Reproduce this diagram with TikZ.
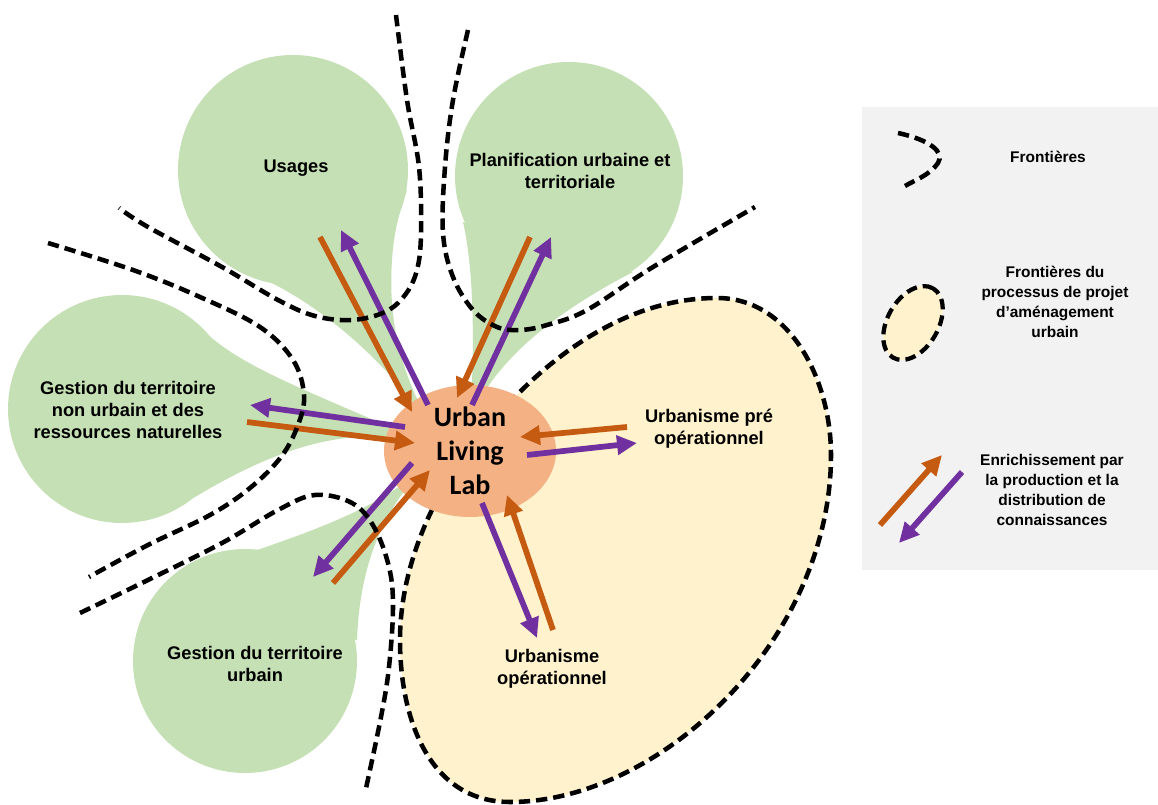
\documentclass[tikz,border=0pt]{standalone}
\usepackage{fontspec}
\setmainfont{Liberation Sans}
\newfontfamily\ullfont{Carlito}
\usetikzlibrary{arrows.meta,shapes.geometric}
\definecolor{leaf}{HTML}{C5E0B4}
\definecolor{cream}{HTML}{FFF2CC}
\definecolor{salmon}{HTML}{F4B183}
\definecolor{rust}{HTML}{C55A11}
\definecolor{myviolet}{HTML}{7030A0}
\definecolor{panel}{HTML}{F2F2F2}
\begin{document}
\begin{tikzpicture}[x=0.75pt,y=-0.75pt,
  leafshape/.style={fill=leaf},
  bound/.style={draw=black,line width=3.4pt,dash pattern=on 8.5pt off 4.5pt},
  orarrow/.style={draw=rust,line width=4.3pt,-{Triangle[length=15pt,width=14pt]}},
  viarrow/.style={draw=myviolet,line width=4.3pt,-{Triangle[length=15pt,width=14pt]}},
  lbl/.style={font=\bfseries\fontsize{13.7}{16.5}\selectfont,align=center,inner sep=0pt},
  leg/.style={font=\bfseries\fontsize{11.6}{15}\selectfont,align=center,inner sep=0pt},
]
\useasboundingbox (0,0) rectangle (1158,805);
\fill[white] (0,0) rectangle (1158,805);

% legend panel
\fill[panel] (862,107) rectangle (1158,570);

% green teardrops
\fill[leafshape] (293,170) circle[radius=115];
\fill[leafshape] (259,277) .. controls (300,295) and (370,340) .. (430,425)
   .. controls (400,370) and (388,320) .. (392,260)
   .. controls (394,230) and (400,210) .. (407,190) -- cycle;
\fill[leafshape] (569,176) circle[radius=114];
\fill[leafshape] (463,222) .. controls (472,260) and (476,330) .. (470,420)
   .. controls (490,370) and (540,320) .. (633,272) -- cycle;
\fill[leafshape] (122,409) circle[radius=114];
\fill[leafshape] (205,332) .. controls (245,370) and (320,395) .. (430,445)
   .. controls (360,425) and (290,440) .. (195,497) -- cycle;
\fill[leafshape] (245,661) circle[radius=112];
\fill[leafshape] (160,590) .. controls (230,550) and (360,530) .. (425,465)
   .. controls (385,510) and (360,560) .. (357,640) -- cycle;

% urban project boundary
\path[fill=cream,draw=black,line width=3.4pt,dash pattern=on 8.5pt off 4.5pt]
  (485,430) .. controls (560,340) and (640,298) .. (717,298)
  .. controls (790,298) and (831,380) .. (831,455)
  .. controls (831,640) and (660,802) .. (510,802)
  .. controls (430,802) and (400,720) .. (400,640)
  .. controls (400,560) and (440,480) .. (485,430) -- cycle;

% central node
\node[ellipse,fill=salmon,minimum width=129pt,minimum height=99pt,inner sep=0pt,
  font=\ullfont\bfseries\fontsize{21}{25.5}\selectfont,align=center] (ull) at (470,451) {Urban\\Living\\Lab};

% labels
\node[lbl] (usages) at (296,168) {Usages};
\node[lbl] (plan) at (570,171) {Planification urbaine et\\territoriale};
\node[lbl] (nonurb) at (128,410) {Gestion du territoire\\non urbain et des\\ressources naturelles};
\node[lbl] (urb) at (255,664) {Gestion du territoire\\urbain};
\node[lbl] (upre) at (709,429) {Urbanisme pré\\opérationnel};
\node[lbl] (uop) at (552,669) {Urbanisme\\opérationnel};

% arrow end points
\coordinate (uA) at (320,237); \coordinate (uB) at (412,412);
\coordinate (uC) at (428,405); \coordinate (uD) at (341,230);
\coordinate (pA) at (530,237); \coordinate (pB) at (457,398);
\coordinate (pC) at (472,405); \coordinate (pD) at (551,237);
\coordinate (nC) at (405,427); \coordinate (nD) at (250,405);
\coordinate (nA) at (247,422); \coordinate (nB) at (415,443);
\coordinate (bC) at (412,463); \coordinate (bD) at (313,577);
\coordinate (bA) at (333,583); \coordinate (bB) at (430,470);
\coordinate (rA) at (627,427); \coordinate (rB) at (520,437);
\coordinate (rC) at (527,455); \coordinate (rD) at (637,443);
\coordinate (oC) at (482,503); \coordinate (oD) at (537,638);
\coordinate (oA) at (553,630); \coordinate (oB) at (507,495);

\draw[orarrow] (uA) -- (uB);
\draw[viarrow] (uC) -- (uD);
\draw[orarrow] (pA) -- (pB);
\draw[viarrow] (pC) -- (pD);
\draw[orarrow] (nA) -- (nB);
\draw[viarrow] (nC) -- (nD);
\draw[orarrow] (bA) -- (bB);
\draw[viarrow] (bC) -- (bD);
\draw[orarrow] (rA) -- (rB);
\draw[viarrow] (rC) -- (rD);
\draw[orarrow] (oA) -- (oB);
\draw[viarrow] (oC) -- (oD);

% frontiers
\draw[bound] plot[smooth,tension=0.6] coordinates {(396,15) (407,100) (419,167) (421,233) (417,270) (405,295) (385,312) (352,320) (315,316) (278,300) (222,267) (148,227) (119,208)};
\draw[bound] plot[smooth,tension=0.6] coordinates {(468,30) (453,100) (445,167) (443,233) (453,277) (473,310) (497,327) (520,330) (547,325) (587,310) (653,267) (755,207)};
\draw[bound] plot[smooth,tension=0.6] coordinates {(48,243) (133,270) (200,297) (260,327) (293,360) (304,395) (298,425) (281,457) (250,488) (210,515) (148,545) (89,577)};
\draw[bound] plot[smooth,tension=0.6] coordinates {(80,613) (148,580) (222,543) (278,510) (315,495) (352,503) (374,527) (389,567) (393,607) (389,667) (381,717) (365,793)};

% legend
\draw[bound] (898,133) .. controls (930,140) and (945,152) .. (938,163)
   .. controls (930,175) and (915,180) .. (905,186);
\node[leg] (legf) at (1048,157) {Frontières};
\node[ellipse,fill=cream,draw=black,line width=3.2pt,dash pattern=on 8pt off 4.5pt,
  minimum width=60pt,minimum height=38pt,inner sep=0pt,rotate=60] (legell) at (913,323) {};
\node[leg] (legp) at (1055,302) {Frontières du\\processus de projet\\d’aménagement\\urbain};
\coordinate (lA) at (880,525); \coordinate (lB) at (942,455);
\coordinate (lC) at (962,472); \coordinate (lD) at (899,543);
\draw[orarrow] (lA) -- (lB);
\draw[viarrow] (lC) -- (lD);
\node[leg] (lege) at (1052,490) {Enrichissement par\\la production et la\\distribution de\\connaissances};
\end{tikzpicture}
\end{document}
